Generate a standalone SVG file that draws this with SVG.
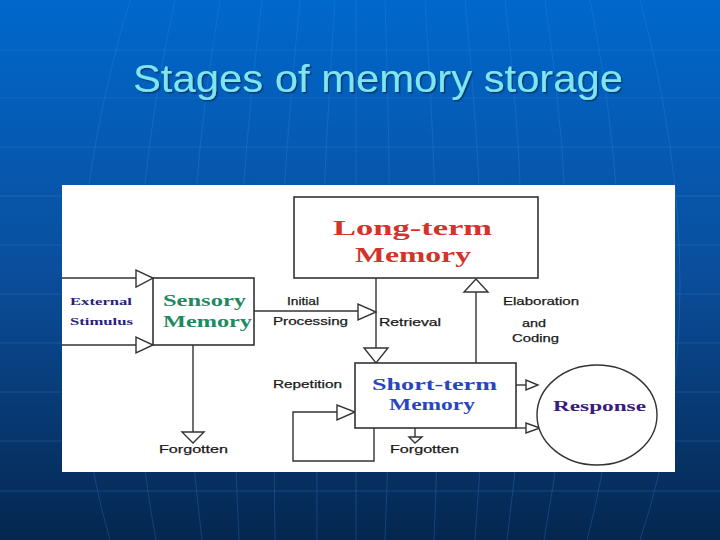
<svg xmlns="http://www.w3.org/2000/svg" width="720" height="540" viewBox="0 0 720 540">
<defs>
<linearGradient id="bg" x1="0" y1="0" x2="0" y2="1">
<stop offset="0" stop-color="#0068cc"/>
<stop offset="0.5" stop-color="#0a4e9c"/>
<stop offset="1" stop-color="#05274f"/>
</linearGradient>
<filter id="sh" x="-5%" y="-20%" width="110%" height="140%">
<feDropShadow dx="1.5" dy="1.5" stdDeviation="0.6" flood-color="#062a55" flood-opacity="0.7"/>
</filter>
<style>
.grid{stroke:#3d8ae0;stroke-width:1;fill:none;opacity:0.28}
.box{fill:#fff;stroke:#333;stroke-width:1.6}
.ln{fill:none;stroke:#333;stroke-width:1.4}
.tri{fill:#fff;stroke:#333;stroke-width:1.4;stroke-linejoin:miter}
.lbl{font-family:"Liberation Sans",Arial,sans-serif;font-size:11px;fill:#1a1a1a;stroke:#1a1a1a;stroke-width:0.25}
.big{font-family:"Liberation Serif","Times New Roman",serif;font-weight:bold}
</style>
</defs>
<rect x="0" y="0" width="720" height="540" fill="url(#bg)"/>
<g id="grid">
<path class="grid" d="M0 50H720M0 98H720M0 147H720M0 196H720M0 245H720M0 294H720M0 343H720M0 392H720M0 441H720M0 491H720"/>
<path class="grid" d="M110 540Q40 300 130 0M156 540Q110 300 175 0M202 540Q170 300 220 0M239 540Q225 300 262 0M275 540Q270 300 300 0M317 540Q315 300 335 0M356 540V0M385 540Q395 300 385 0M434 540Q445 300 425 0M475 540Q495 300 465 0M507 540Q540 300 505 0M544 540Q590 300 545 0M587 540Q650 300 590 0M640 540Q720 300 640 0"/>
</g>
<text id="title" x="133" y="92" font-family="Liberation Sans,Arial,sans-serif" font-size="38" fill="#7fe6ef" filter="url(#sh)" textLength="490" lengthAdjust="spacingAndGlyphs">Stages of memory storage</text>
<rect x="62" y="185" width="613" height="287" fill="#fff"/>
<g id="connectors">
<line class="ln" x1="62" y1="278" x2="136" y2="278"/>
<polygon class="tri" points="136,270 136,287 153,278"/>
<line class="ln" x1="62" y1="345" x2="136" y2="345"/>
<polygon class="tri" points="136,337 136,353 153,345"/>
<line class="ln" x1="254" y1="311" x2="358" y2="311"/>
<polygon class="tri" points="358,304 358,320 376,312"/>
<line class="ln" x1="376" y1="278" x2="376" y2="348"/>
<polygon class="tri" points="364,348 388,348 376,363"/>
<line class="ln" x1="476" y1="363" x2="476" y2="292"/>
<polygon class="tri" points="464,292 488,292 476,279"/>
<line class="ln" x1="193" y1="345" x2="193" y2="432"/>
<polygon class="tri" points="182,432 204,432 193,443"/>
<line class="ln" x1="415" y1="428" x2="415" y2="437"/>
<polygon class="tri" points="409,437 422,437 415,443"/>
<path class="ln" d="M374 428V461H293V412H337"/>
<polygon class="tri" points="337,405 337,420 355,412"/>
<line class="ln" x1="516" y1="385" x2="526" y2="385"/>
<polygon class="tri" points="526,380 526,390 538,385"/>
<line class="ln" x1="516" y1="428" x2="526" y2="428"/>
<polygon class="tri" points="526,423 526,433 540,428"/>
</g>
<g id="labels">
<text class="lbl" x="287" y="305" textLength="32" lengthAdjust="spacingAndGlyphs">Initial</text>
<text class="lbl" x="273" y="325" textLength="75" lengthAdjust="spacingAndGlyphs">Processing</text>
<text class="lbl" x="379" y="326" textLength="62" lengthAdjust="spacingAndGlyphs">Retrieval</text>
<text class="lbl" x="503" y="305" textLength="76" lengthAdjust="spacingAndGlyphs">Elaboration</text>
<text class="lbl" x="522" y="327" textLength="24" lengthAdjust="spacingAndGlyphs">and</text>
<text class="lbl" x="512" y="342" textLength="47" lengthAdjust="spacingAndGlyphs">Coding</text>
<text class="lbl" x="273" y="388" textLength="69" lengthAdjust="spacingAndGlyphs">Repetition</text>
<text class="lbl" x="159" y="453" textLength="69" lengthAdjust="spacingAndGlyphs">Forgotten</text>
<text class="lbl" x="390" y="453" textLength="69" lengthAdjust="spacingAndGlyphs">Forgotten</text>
</g>
<g id="external">
<text class="big" x="70" y="305" font-size="10" fill="#2a1f7a" textLength="62" lengthAdjust="spacingAndGlyphs">External</text>
<text class="big" x="70" y="325" font-size="10" fill="#2a1f7a" textLength="63" lengthAdjust="spacingAndGlyphs">Stimulus</text>
</g>
<g id="sensory">
<rect class="box" x="153" y="278" width="101" height="67"/>
<text class="big" x="163" y="306" font-size="17" fill="#1e8a62" textLength="83" lengthAdjust="spacingAndGlyphs">Sensory</text>
<text class="big" x="163" y="327" font-size="17" fill="#1e8a62" textLength="89" lengthAdjust="spacingAndGlyphs">Memory</text>
</g>
<g id="longterm">
<rect class="box" x="294" y="197" width="244" height="81"/>
<text class="big" x="333" y="235" font-size="22" fill="#d3332a" textLength="159" lengthAdjust="spacingAndGlyphs">Long-term</text>
<text class="big" x="355" y="262" font-size="22" fill="#d3332a" textLength="116" lengthAdjust="spacingAndGlyphs">Memory</text>
</g>
<g id="shortterm">
<rect class="box" x="355" y="363" width="161" height="65"/>
<text class="big" x="372" y="390" font-size="16" fill="#2a45c0" textLength="125" lengthAdjust="spacingAndGlyphs">Short-term</text>
<text class="big" x="389" y="410" font-size="16" fill="#2a45c0" textLength="86" lengthAdjust="spacingAndGlyphs">Memory</text>
</g>
<g id="response">
<ellipse cx="597" cy="415" rx="60" ry="50" fill="#fff" stroke="#333" stroke-width="1.4"/>
<text class="big" x="553" y="411" font-size="14" fill="#3b1c7a" textLength="93" lengthAdjust="spacingAndGlyphs">Response</text>
</g>
</svg>
